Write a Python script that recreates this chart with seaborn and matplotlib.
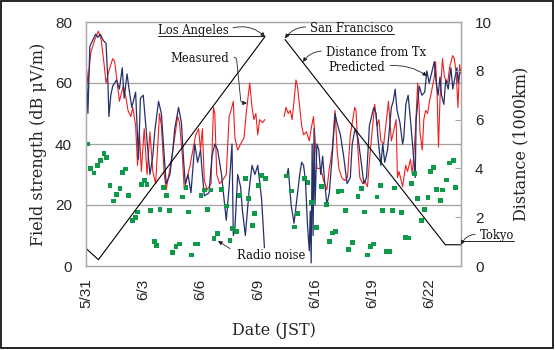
"""Field strength along the voyage: measured vs predicted, radio noise, distance from Tx."""
import matplotlib
matplotlib.use("Agg")
import matplotlib.pyplot as plt
import numpy as np
import pandas as pd
import seaborn as sns
from matplotlib.lines import Line2D
from matplotlib.patches import Rectangle

# x axis is a day index (the 6/10-6/13 stretch is cut out of the axis)
TICK_LABELS = ["5/31", "6/3", "6/6", "6/9", "6/16", "6/19", "6/22"]
GAP_DAY = 10.0

meas_day = [0.0, 0.1, 0.25, 0.45, 0.65, 0.8, 0.95, 1.05, 1.2, 1.4, 1.5, 1.6, 1.75, 1.95, 2.1, 2.2,
            2.35, 2.45, 2.6, 2.7, 2.8, 2.9, 3.05, 3.2, 3.35, 3.5, 3.65, 3.85, 3.95, 4.1, 4.2, 4.4,
            4.6, 4.8, 4.9, 5.05, 5.15, 5.3, 5.45, 5.6, 5.75, 5.9, 6.0, 6.1, 6.2, 6.35, 6.55, 6.68,
            6.75, 6.85, 7.0, 7.15, 7.35, 7.5, 7.6, 7.72, 7.8, 7.95, 8.1, 8.28, 8.41, 8.58, 8.7, 8.8,
            8.9, 9.0, 9.1, 9.25, 9.37,
            10.38, 10.48, 10.6, 10.7, 10.8, 10.9, 11.0, 11.08, 11.2, 11.3, 11.4, 11.55, 11.7, 11.8,
            11.92, 12.0, 12.1, 12.3, 12.45, 12.62, 12.75, 12.9, 13.05, 13.16, 13.25, 13.4, 13.55,
            13.7, 13.85, 14.08, 14.15, 14.25, 14.35, 14.5, 14.6, 14.75, 14.9, 15.13, 15.25, 15.35,
            15.45, 15.6, 15.78, 15.85, 16.0, 16.15, 16.25, 16.32, 16.4, 16.59, 16.75, 16.85, 17.0,
            17.1, 17.25, 17.38, 17.45, 17.5, 17.62, 17.7, 17.8, 17.9, 18.0, 18.1, 18.25, 18.32, 18.4,
            18.47, 18.55, 18.68, 18.78, 18.95, 19.05, 19.21, 19.3, 19.4, 19.49, 19.58, 19.65]
meas_db = [66, 60, 70, 74, 77, 74, 66, 60, 64, 68, 67, 62, 54, 59, 55, 51,
           49, 52, 46, 33, 44, 31, 45, 30, 44, 31, 27, 50, 46, 30, 25, 32,
           40, 49, 47, 36, 25, 29, 33, 38, 43, 45, 38, 45, 28, 25, 27, 52,
           50, 30, 27, 28, 30, 49, 51, 54, 42, 38, 40, 42, 51, 60, 52, 48,
           50, 43, 48, 47, 48,
           49, 52, 50, 51, 48, 54, 61, 59, 52, 46, 43, 44, 41, 45,
           49, 42, 32, 32, 28, 25, 32, 38, 51, 38, 32, 29, 28,
           29, 43, 52, 51, 38, 29, 27, 28, 26, 38, 53, 46, 48,
           41, 40, 50, 54, 41, 45, 48, 29, 31, 26, 33, 31, 35,
           30, 43, 60, 53, 44, 38, 48, 51, 50, 54, 57, 62, 67, 56,
           39, 55, 68, 62, 60, 65, 69, 68, 63, 52, 66, 63]

pred_day = [0.0, 0.1, 0.2, 0.35, 0.5, 0.62, 0.75, 0.9, 1.05, 1.15, 1.2, 1.3, 1.4, 1.6, 1.75, 1.9,
            2.0, 2.15, 2.3, 2.4, 2.6, 2.75, 2.85, 3.0, 3.2, 3.35, 3.5, 3.6, 3.8, 3.95, 4.1, 4.2,
            4.4, 4.55, 4.65, 4.85, 5.0, 5.1, 5.2, 5.35, 5.5, 5.7, 5.85, 6.0, 6.1, 6.2, 6.45, 6.6,
            6.75, 6.9, 7.1, 7.35, 7.5, 7.65, 7.72, 7.8, 7.95, 8.1, 8.2, 8.35, 8.55, 8.7, 8.85, 9.0,
            9.2, 9.35,
            10.5, 10.6, 10.75, 10.9, 11.05, 11.2, 11.3, 11.4, 11.5, 11.6, 11.7, 11.75, 11.8, 11.85,
            11.9, 11.95, 12.0, 12.1, 12.2, 12.3, 12.4, 12.5, 12.62, 12.75, 12.9, 13.05, 13.15,
            13.33, 13.5, 13.68, 13.85, 13.95, 14.1, 14.25, 14.4, 14.56, 14.7, 14.85, 15.08, 15.2,
            15.3, 15.45, 15.55, 15.65, 15.8, 16.0, 16.1, 16.2, 16.3, 16.45, 16.59, 16.65, 16.76,
            16.88, 17.0, 17.11, 17.25, 17.3, 17.46, 17.6, 17.75, 17.86, 17.98, 18.1, 18.25, 18.35,
            18.45, 18.55, 18.63, 18.75, 18.85, 18.98, 19.12, 19.22, 19.34, 19.44, 19.5, 19.6]
pred_db = [68, 50, 72, 74, 76, 75, 76, 74, 73, 60, 49, 56, 59, 61, 58, 65,
           55, 63, 56, 52, 57, 35, 55, 56, 41, 30, 36, 44, 54, 50, 36, 27,
           30, 38, 45, 52, 47, 36, 27, 30, 24, 40, 34, 38, 30, 23, 24, 36,
           40, 38, 30, 15, 26, 40, 10, 12, 30, 26, 18, 10, 25, 33, 30, 33,
           22, 6,
           29, 32, 20, 14, 22, 30, 34, 33, 28, 14, 5, 18, 1, 40,
           10, 45, 20, 40, 38, 30, 36, 28, 20, 24, 36, 50, 47,
           43, 36, 27, 29, 40, 45, 42, 35, 27, 29, 46, 52, 50,
           42, 33, 40, 34, 38, 52, 54, 58, 51, 47, 40, 42, 53,
           56, 48, 40, 29, 48, 59, 56, 57, 64, 60, 63, 67, 60,
           56, 62, 56, 53, 61, 58, 65, 58, 62, 65, 60, 64]

noise_day = [0.07, 0.24, 0.42, 0.59, 0.77, 0.94, 1.08, 1.26, 1.43, 1.61, 1.78, 1.92, 2.08, 2.22,
             2.43, 2.6, 2.71, 2.92, 3.06, 3.2, 3.39, 3.57, 3.7, 3.88, 4.05, 4.2, 4.37, 4.55, 4.72,
             4.9, 5.07, 5.24, 5.38, 5.54, 5.72, 5.85, 6.03, 6.2, 6.36, 6.55, 6.71, 6.88, 7.12, 7.38,
             7.55, 7.69, 7.87, 8.04, 8.34, 8.51, 8.73, 8.85, 9.02, 9.21, 9.39,
             10.52, 10.75, 10.92, 11.1, 11.45, 11.63, 11.8, 12.06, 12.32, 12.62, 12.74, 12.92, 13.07,
             13.2, 13.38, 13.58, 13.76, 13.95, 14.25, 14.44, 14.58, 14.75, 14.92, 15.08, 15.25,
             15.43, 15.55, 15.72, 15.9, 16.07, 16.15, 16.55, 16.73, 16.9, 17.05, 17.23, 17.39,
             17.57, 17.74, 17.92, 18.04, 18.21, 18.38, 18.56, 18.7, 18.89, 19.04, 19.25, 19.38]
noise_db = [40, 32, 30.5, 33, 34.5, 37, 35.5, 26.4, 21.3, 23.5, 25.4, 30.6, 31.8, 23,
            14.8, 16, 17.7, 26.8, 27.9, 26.6, 18.1, 7.9, 6.8, 18.6, 25.7, 23.2, 18.1, 4.5, 6.4,
            7.2, 22.6, 25.7, 17.7, 3.6, 7.2, 7.2, 23.2, 24.9, 18.6, 24.9, 9.1, 10.6, 25.1, 19.7,
            8.3, 12.3, 11.2, 23, 28.6, 22.1, 13.4, 17.2, 26.4, 29.7, 28.6,
            29.5, 24.6, 12.8, 17.2, 28.6, 27.3, 20.8, 12.6, 26, 20.2, 7.9, 10.8, 11.2,
            24.5, 24.6, 18.3, 5.5, 7.6, 22.8, 25.3, 17.7, 3.6, 6.4, 7.2, 22.6,
            26.4, 18.1, 4.7, 4.7, 18.1, 25.6, 17.5, 9.4, 9.2, 27, 30.2, 22.1,
            14.8, 18.4, 22.4, 31.1, 32.3, 25.2, 21.4, 24.9, 28.2, 33.8, 34.6, 25.8]

# distance from the transmitter (1000 km): Tokyo -> Los Angeles, San Francisco -> Tokyo
dist_day = [0.0, 0.65, 9.38, 10.43, 18.83, 19.65]
dist_km = [0.72, 0.26, 9.4, 9.28, 0.87, 0.87]

assert len(meas_day) == len(meas_db)
assert len(pred_day) == len(pred_db)
assert len(noise_day) == len(noise_db)

W, H = 555, 350
RED = "#f21d1d"
NAVY = "#24306a"
GREEN = "#0f9a4a"
GRID = "#a5a09e"
SPINE = "#a8a8a8"
SERIF = "DejaVu Serif"

sns.set_style("white")
plt.rcParams["font.family"] = ["Liberation Sans", "DejaVu Sans"]

meas = pd.DataFrame({"day": meas_day, "db": meas_db})
meas["seg"] = (meas["day"] > GAP_DAY).astype(int)
pred = pd.DataFrame({"day": pred_day, "db": pred_db})
pred["seg"] = (pred["day"] > GAP_DAY).astype(int)
noise = pd.DataFrame({"day": noise_day, "db": noise_db})
dist = pd.DataFrame({"day": dist_day, "km": dist_km})
dist["seg"] = (dist["day"] > GAP_DAY).astype(int)

fig = plt.figure(figsize=(W / 100, H / 100), dpi=100)
ax = fig.add_axes([86 / W, 1 - 266 / H, (461 - 86) / W, (266 - 22) / H])

for y in (20, 40, 60):
    ax.axhline(y, color=GRID, lw=0.9, zorder=0)

sns.lineplot(data=meas, x="day", y="db", units="seg", estimator=None, color=RED,
             lw=0.8, ax=ax, zorder=2)
sns.lineplot(data=pred, x="day", y="db", units="seg", estimator=None, color=NAVY,
             lw=0.9, ax=ax, zorder=3)
sns.scatterplot(data=noise, x="day", y="db", marker="s", s=12, color=GREEN,
                edgecolor="none", ax=ax, zorder=4)

ax.set_xlim(0, 19.65)
ax.set_ylim(0, 80)
ax.set_yticks([0, 20, 40, 60, 80])
ax.set_xticks(np.arange(0, 20))
ax.set_xticklabels([TICK_LABELS[i // 3] if i % 3 == 0 else "" for i in range(20)], rotation=90)
ax.tick_params(axis="x", direction="in", length=4, color=SPINE, pad=9, labelsize=11)
ax.tick_params(axis="y", length=0, pad=10, labelsize=11)
ax.set_xlabel("Date (JST)", family=SERIF, fontsize=11.5, labelpad=10)
ax.set_ylabel("Field strength (dB μV/m)", family=SERIF, fontsize=11.5, labelpad=6)
for s in ax.spines.values():
    s.set_color(SPINE)
    s.set_linewidth(0.9)

ax2 = ax.twinx()
sns.lineplot(data=dist, x="day", y="km", units="seg", estimator=None, color="black",
             lw=0.8, ax=ax2)
ax2.set_ylim(0, 10)
ax2.set_yticks([0, 2, 4, 6, 8, 10])
ax2.tick_params(axis="y", direction="in", length=4, color=SPINE, pad=10, labelsize=11)
ax2.set_ylabel("Distance (1000km)", family=SERIF, fontsize=11.5, labelpad=15)
for s in ax2.spines.values():
    s.set_color(SPINE)
    s.set_linewidth(0.9)


def fp(x, y):
    # image pixel (from top-left) -> figure pixels
    return (x, H - y)


arrow = dict(arrowstyle="-|>", color="#222222", lw=0.6, mutation_scale=6,
             shrinkA=1, shrinkB=0)
notes = [
    # text, text position (centre x, baseline y), target, coords of target, relpos, connection, underline
    ("Los Angeles", (193, 34), (dist_day[2], dist_km[2]), ax2.transData, (1, 0.6), "arc3,rad=-0.3", True),
    ("Measured", (200, 62), fp(247, 103), "figure pixels", (1, 0.6),
     "arc,angleA=0,angleB=180,armA=7,armB=6,rad=3", False),
    ("San Francisco", (352, 32), (dist_day[3], dist_km[3] + 0.05), ax2.transData, (0, 0.6), "arc3,rad=0.3", True),
    ("Distance from Tx", (376, 56), fp(303, 62), "figure pixels", (0, 0.6), "arc3,rad=0.3", False),
    ("Predicted", (357, 71), fp(427, 76), "figure pixels", (1, 0.6), "arc3,rad=-0.2", False),
    ("Radio noise", (271, 259), fp(218, 241), "figure pixels", (0, 0.7), "arc3,rad=0", False),
    ("Tokyo", (497, 239), (dist_day[5], dist_km[5]), ax2.transData, (0, 0.6), "arc3,rad=0.35", True),
]
texts = []
for label, (tx, ty), xy, xyc, relpos, conn, under in notes:
    t = ax2.annotate(label, xy=xy, xycoords=xyc, xytext=fp(tx, ty), textcoords="figure pixels",
                     ha="center", va="baseline", family=SERIF, fontsize=8.3, color="#111111",
                     annotation_clip=False,
                     arrowprops=dict(arrow, relpos=relpos, connectionstyle=conn,
                                     shrinkA=3 if label == "Radio noise" else 1))
    if under:
        texts.append((t, ty))

fig.canvas.draw()
for t, ty in texts:
    bb = t.get_window_extent()
    fig.add_artist(Line2D([bb.x0, bb.x1], [H - ty - 2, H - ty - 2], transform=None,
                          color="#222222", lw=0.7))

fig.add_artist(Rectangle((1 / W, 2 / H), (W - 3) / W, (H - 3) / H, transform=fig.transFigure,
                         fill=False, ec="black", lw=1.2))

fig.savefig("out.png", dpi=100)
